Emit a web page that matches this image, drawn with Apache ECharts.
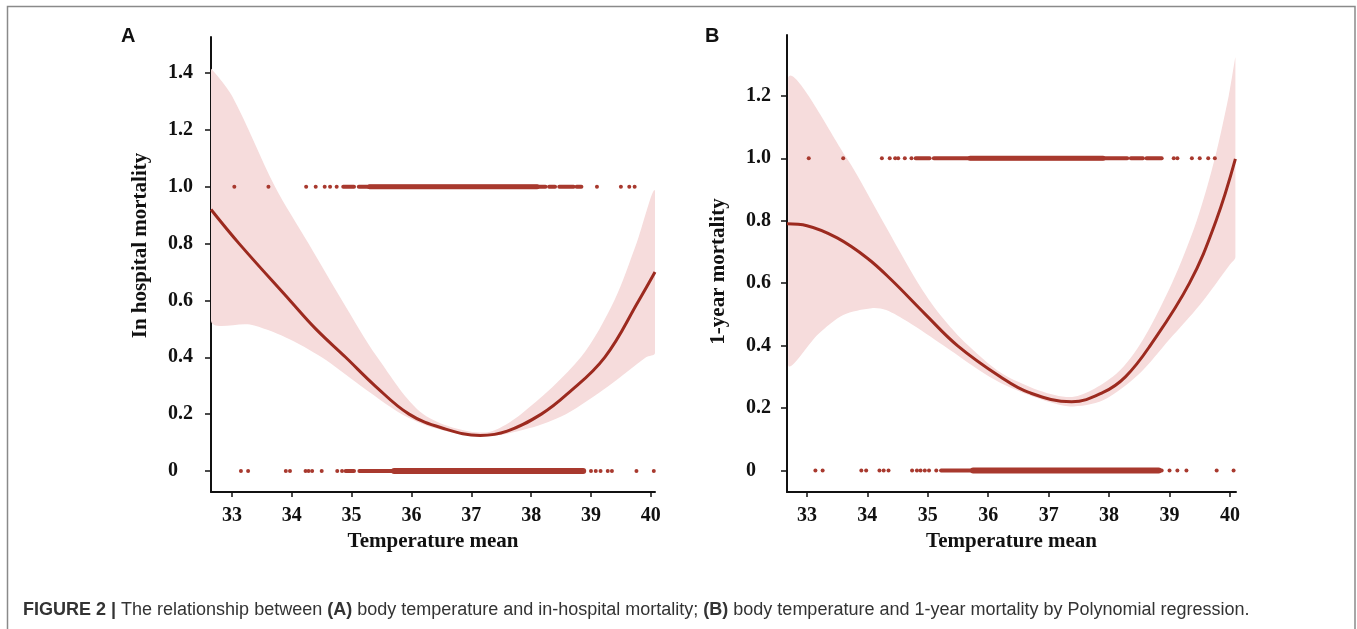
<!DOCTYPE html>
<html>
<head>
<meta charset="utf-8">
<style>
  html, body { margin: 0; padding: 0; background: #fff; }
  #chart { width: 1357px; height: 629px; }
</style>
<script src="https://cdn.jsdelivr.net/npm/echarts@6.0.0/dist/echarts.min.js"></script>
</head>
<body>
<div id="chart"></div>
<script>
// tick labels
const xTicks = [33, 34, 35, 36, 37, 38, 39, 40]
const yTicksA = [0, 0.2, 0.4, 0.6, 0.8, 1.0, 1.2, 1.4]
const yTicksB = [0, 0.2, 0.4, 0.6, 0.8, 1.0, 1.2]

// A: in-hospital mortality, fitted curve
const fitTempA = [32.65, 33.12, 33.97, 34.4, 34.9, 35.4, 35.96, 36.5, 37.15, 37.6, 38.17, 38.6, 39.23, 39.8, 40.07]
const fitA = [0.92, 0.8, 0.6, 0.5, 0.4, 0.298, 0.2, 0.152, 0.125, 0.14, 0.2, 0.27, 0.4, 0.6, 0.70]
// A: confidence band edges
const upperTempA = [32.65, 33.0, 33.72, 34.28, 34.84, 35.43, 36.2, 37.2, 37.83, 38.83, 39.39, 39.76, 40.07]
const upperA = [1.415, 1.32, 1.0, 0.8, 0.6, 0.4, 0.2, 0.135, 0.2, 0.4, 0.6, 0.8, 0.985]
const lowerTempA = [32.65, 33.3, 33.9, 34.5, 35.15, 35.84, 36.4, 37.2, 37.96, 38.58, 39.3, 39.92, 40.07]
const lowerA = [0.528, 0.515, 0.47, 0.4, 0.3, 0.2, 0.15, 0.12, 0.15, 0.2, 0.3, 0.4, 0.415]

// A: observations (single dots and dense runs) at 1 and 0
const dotsOneA = [33.04, 33.61, 34.24, 34.4, 34.55, 34.64, 34.75, 39.1, 39.5, 39.64, 39.73]
const runsOneA = [[34.86, 35.04], [35.12, 38.24], [38.3, 38.4], [38.47, 38.71], [38.76, 38.84]]
const coreOneA = [[35.3, 38.1]]
const dotsZeroA = [33.15, 33.27, 33.9, 33.97, 34.23, 34.28, 34.34, 34.5, 34.76, 34.84, 39.0, 39.08, 39.16, 39.28, 39.35, 39.76, 40.05]
const runsZeroA = [[34.9, 35.04], [35.13, 38.87]]
const coreZeroA = [[35.71, 38.87]]

// B: 1-year mortality, fitted curve
const fitTempB = [32.67, 33.0, 33.5, 34.0, 34.4, 34.96, 35.49, 36.2, 36.67, 37.38, 37.9, 38.27, 38.68, 39.33, 39.77, 40.09]
const fitB = [0.79, 0.784, 0.745, 0.68, 0.61, 0.5, 0.4, 0.3, 0.25, 0.22, 0.25, 0.3, 0.4, 0.6, 0.8, 0.998]
// B: confidence band edges
const upperTempB = [32.69, 33.66, 34.25, 34.84, 35.2, 35.67, 36.32, 37.35, 38.06, 38.5, 39.04, 39.45, 39.75, 39.98, 40.09]
const upperB = [1.258, 1.0, 0.8, 0.6, 0.5, 0.4, 0.3, 0.235, 0.3, 0.4, 0.6, 0.8, 1.0, 1.2, 1.324]
const lowerTempB = [32.69, 33.19, 33.6, 34.07, 34.31, 34.67, 35.26, 36.02, 36.56, 37.35, 37.9, 38.5, 39.0, 39.5, 40.0, 40.09]
const lowerB = [0.339, 0.437, 0.498, 0.52, 0.514, 0.476, 0.4, 0.3, 0.25, 0.205, 0.225, 0.31, 0.42, 0.53, 0.66, 0.684]

const dotsOneB = [33.03, 33.6, 34.24, 34.37, 34.46, 34.51, 34.62, 34.73, 39.07, 39.13, 39.37, 39.5, 39.64, 39.75]
const runsOneB = [[34.8, 35.03], [35.1, 38.3], [38.36, 38.56], [38.62, 38.87]]
const coreOneB = [[35.7, 37.9]]
const dotsZeroB = [33.14, 33.26, 33.9, 33.98, 34.2, 34.27, 34.35, 34.74, 34.82, 34.88, 34.95, 35.02, 35.14, 39.0, 39.13, 39.28, 39.78, 40.06]
const runsZeroB = [[35.22, 38.87]]
const coreZeroB = [[35.75, 38.82]]

const BAND = '#f6dcdc'
const LINE = '#9c2a1f'
const DOT = '#a8392e'
const SERIF = '"Liberation Serif", "Times New Roman", serif'
const SANS = '"Liberation Sans", Arial, sans-serif'

const chart = echarts.init(document.getElementById('chart'), null, { renderer: 'canvas' })

function tickFmt(v) {
  return v === 0 ? '0' : v.toFixed(1)
}

function xAxisOf(idx, min, max) {
  return {
    type: 'value', gridIndex: idx, min: min, max: max,
    name: 'Temperature mean', nameLocation: 'middle', nameGap: 37,
    nameTextStyle: { fontFamily: SERIF, fontWeight: 'bold', fontSize: 21, color: '#111' },
    axisLine: { onZero: false, lineStyle: { color: '#111', width: 2 } },
    axisTick: { length: 5, lineStyle: { color: '#111', width: 1.5 }, customValues: xTicks },
    axisLabel: { customValues: xTicks, margin: 14, fontFamily: SERIF, fontWeight: 'bold', fontSize: 20, color: '#111' },
    splitLine: { show: false }
  }
}

function yAxisOf(idx, min, max, ticks, name, gap, margin, pad) {
  return {
    type: 'value', gridIndex: idx, min: min, max: max,
    name: name, nameLocation: 'middle', nameGap: gap,
    nameTextStyle: { fontFamily: SERIF, fontWeight: 'bold', fontSize: 21, color: '#111', padding: pad },
    axisLine: { onZero: false, lineStyle: { color: '#111', width: 2 } },
    axisTick: { length: 6, lineStyle: { color: '#111', width: 1.5 }, customValues: ticks },
    axisLabel: { customValues: ticks, formatter: tickFmt, align: 'left', margin: margin,
      fontFamily: SERIF, fontWeight: 'bold', fontSize: 20, color: '#111' },
    splitLine: { show: false }
  }
}

// band polygon: upper edge left to right, lower edge back right to left
function bandSeries(idx, upT, up, loT, lo) {
  return {
    type: 'custom', xAxisIndex: idx, yAxisIndex: idx, z: 1, silent: true,
    data: upT.map((t, i) => [t, up[i]]),
    encode: { x: 0, y: 1 },
    renderItem: function (params, api) {
      if (params.dataIndex !== 0) return null
      const top = upT.map((t, i) => api.coord([t, up[i]]))
      const bottom = loT.map((t, i) => api.coord([t, lo[i]])).reverse()
      const pts = top.concat(bottom)
      const xs = pts.map(p => p[0])
      const ys = pts.map(p => p[1])
      const bounds = [[Math.min.apply(null, xs), Math.min.apply(null, ys)],
        [Math.max.apply(null, xs), Math.max.apply(null, ys)]]
      return {
        type: 'polygon',
        shape: { points: pts, smooth: 0.3, smoothConstraint: bounds },
        style: { fill: BAND }
      }
    }
  }
}

function runSeries(idx, runs, level, width) {
  return {
    type: 'custom', xAxisIndex: idx, yAxisIndex: idx, z: 3, silent: true,
    data: runs.map(r => [r[0], r[1], level]),
    encode: { x: [0, 1], y: 2 },
    renderItem: function (params, api) {
      const a = api.coord([api.value(0), api.value(2)])
      const b = api.coord([api.value(1), api.value(2)])
      return {
        type: 'line',
        shape: { x1: a[0], y1: a[1], x2: b[0], y2: b[1] },
        style: { stroke: DOT, lineWidth: width, lineCap: 'round' }
      }
    }
  }
}

function dotSeries(idx, xs, level) {
  return {
    type: 'scatter', xAxisIndex: idx, yAxisIndex: idx, z: 3, silent: true,
    symbol: 'circle', symbolSize: 4,
    itemStyle: { color: DOT, opacity: 1 },
    data: xs.map(x => [x, level])
  }
}

function fitSeries(idx, temps, fit) {
  return {
    type: 'line', xAxisIndex: idx, yAxisIndex: idx, z: 4, silent: true,
    smooth: 0.4, showSymbol: false,
    lineStyle: { color: LINE, width: 3 },
    data: temps.map((t, i) => [t, fit[i]])
  }
}

const caption = '{b|FIGURE 2 |}{n| The relationship between }{b|(A)}{n| body temperature and in-hospital mortality; }' +
  '{b|(B)}{n| body temperature and 1-year mortality by Polynomial regression.}'

chart.setOption({
  animation: false,
  backgroundColor: '#fff',
  grid: [
    { left: 211, top: 37, width: 444, height: 455 },
    { left: 787, top: 35, width: 449, height: 457 }
  ],
  xAxis: [xAxisOf(0, 32.65, 40.07), xAxisOf(1, 32.67, 40.1)],
  yAxis: [
    yAxisOf(0, -0.074, 1.527, yTicksA, 'In hospital mortality', 60, 43, [0, 0, 0, 38]),
    yAxisOf(1, -0.069, 1.395, yTicksB, '1-year mortality', 58, 41, [0, 16, 0, 0])
  ],
  series: [
    bandSeries(0, upperTempA, upperA, lowerTempA, lowerA),
    runSeries(0, runsOneA, 1, 4),
    runSeries(0, coreOneA, 1, 5),
    runSeries(0, runsZeroA, 0, 4),
    runSeries(0, coreZeroA, 0, 6),
    dotSeries(0, dotsOneA, 1),
    dotSeries(0, dotsZeroA, 0),
    fitSeries(0, fitTempA, fitA),
    bandSeries(1, upperTempB, upperB, lowerTempB, lowerB),
    runSeries(1, runsOneB, 1, 4),
    runSeries(1, coreOneB, 1, 5),
    runSeries(1, runsZeroB, 0, 4),
    runSeries(1, coreZeroB, 0, 6),
    dotSeries(1, dotsOneB, 1),
    dotSeries(1, dotsZeroB, 0),
    fitSeries(1, fitTempB, fitB)
  ],
  graphic: [
    {
      type: 'rect', silent: true, z: 0,
      shape: { x: 7.5, y: 6.5, width: 1347.5, height: 640 },
      style: { fill: 'none', stroke: '#8a8a8a', lineWidth: 1.5 }
    },
    {
      type: 'text', x: 121, y: 36, silent: true,
      style: { text: 'A', fontFamily: SANS, fontWeight: 'bold', fontSize: 20, fill: '#111', verticalAlign: 'middle' }
    },
    {
      type: 'text', x: 705, y: 36, silent: true,
      style: { text: 'B', fontFamily: SANS, fontWeight: 'bold', fontSize: 20, fill: '#111', verticalAlign: 'middle' }
    },
    {
      type: 'text', x: 23, y: 610, silent: true,
      style: {
        text: caption, verticalAlign: 'middle', fill: '#333',
        fontFamily: SANS, fontSize: 18,
        rich: {
          b: { fontFamily: SANS, fontSize: 18, fontWeight: 'bold', fill: '#333' },
          n: { fontFamily: SANS, fontSize: 18, fill: '#333' }
        }
      }
    }
  ]
})
</script>
</body>
</html>
